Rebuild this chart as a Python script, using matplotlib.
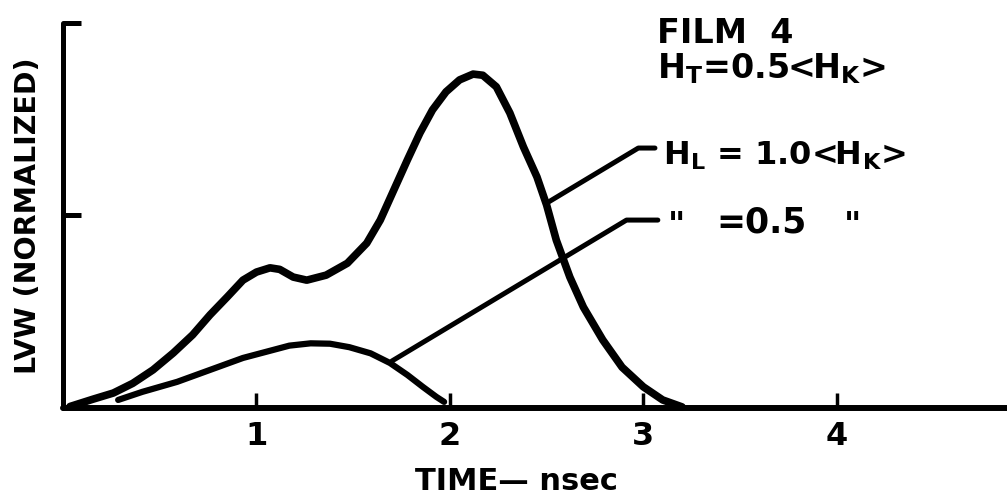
import matplotlib
matplotlib.use("Agg")
import matplotlib.pyplot as plt

# LVW response, H_L = 1.0 <H_K>
t_high = [0.036, 0.155, 0.26, 0.36, 0.465, 0.57, 0.67, 0.76, 0.85, 0.93,
          1.00, 1.07, 1.12, 1.19, 1.26, 1.36, 1.47, 1.57, 1.64, 1.71, 1.78,
          1.845, 1.91, 1.98, 2.05, 2.12, 2.17, 2.24, 2.31, 2.38, 2.45, 2.50,
          2.55, 2.62, 2.69, 2.79, 2.89, 3.00, 3.10, 3.20]
v_high = [0.004, 0.023, 0.039, 0.064, 0.099, 0.143, 0.19, 0.242, 0.289,
          0.332, 0.353, 0.364, 0.360, 0.340, 0.332, 0.345, 0.376, 0.428,
          0.488, 0.566, 0.644, 0.714, 0.774, 0.821, 0.852, 0.867, 0.864,
          0.834, 0.766, 0.678, 0.60, 0.527, 0.436, 0.340, 0.262, 0.177,
          0.106, 0.055, 0.021, 0.003]

# LVW response, H_L = 0.5 <H_K>
t_low = [0.285, 0.41, 0.59, 0.76, 0.93, 1.05, 1.17, 1.28, 1.38, 1.48, 1.59,
         1.69, 1.78, 1.86, 1.93, 1.97]
v_low = [0.021, 0.042, 0.068, 0.099, 0.130, 0.146, 0.162, 0.168, 0.167,
         0.158, 0.142, 0.117, 0.086, 0.055, 0.029, 0.016]

x_ticks = [1, 2, 3, 4]
x_ticklabels = ["1", "2", "3", "4"]
y_ticks = [0.5, 1.0]

plt.rcParams["font.family"] = ["DejaVu Sans"]
plt.rcParams["font.weight"] = "bold"
plt.rcParams["mathtext.fontset"] = "custom"
plt.rcParams["mathtext.rm"] = "DejaVu Sans:bold"
plt.rcParams["mathtext.it"] = "DejaVu Sans:bold"
plt.rcParams["mathtext.bf"] = "DejaVu Sans:bold"

fig = plt.figure(figsize=(10.07, 4.97), dpi=100)
ax = fig.add_axes([0.0626, 0.179, 0.9374, 0.775])
ax.set_xlim(0, 4.88)
ax.set_ylim(0, 1.0)

ink = "black"
ax.plot(t_high, v_high, color=ink, lw=5.5, solid_capstyle="round",
        solid_joinstyle="round", clip_on=False)
ax.plot(t_low, v_low, color=ink, lw=4.5, solid_capstyle="round",
        solid_joinstyle="round", clip_on=False)

for side in ("top", "right"):
    ax.spines[side].set_visible(False)
ax.spines["left"].set_linewidth(3.6)
ax.spines["bottom"].set_linewidth(4.3)
ax.spines["left"].set_capstyle("round")
ax.spines["bottom"].set_capstyle("round")

ax.set_xticks(x_ticks)
ax.set_xticklabels(x_ticklabels)
ax.tick_params(axis="x", direction="in", length=11, width=2.5, pad=9,
               labelsize=23)
ax.set_yticks(y_ticks)
ax.set_yticklabels([])
ax.tick_params(axis="y", direction="in", length=13, width=3.6)

ax.text(-0.037, 0.5, "LVW (NORMALIZED)", transform=ax.transAxes,
        rotation=90, ha="center", va="center", fontsize=20.5,
        fontweight="bold")
ax.text(1.82, -0.192, "TIME\u2014 nsec", transform=ax.get_xaxis_transform(),
        ha="left", va="center", fontsize=22, fontweight="bold")

# Title block
ax.text(3.07, 0.948, "FILM  4", ha="left", va="baseline", fontsize=24,
        fontweight="bold")
ax.text(3.07, 0.857, r"H$_{\mathrm{T}}$=0.5<H$_{\mathrm{K}}$>", ha="left",
        va="baseline", fontsize=24, fontweight="bold")

# Curve labels with leader lines
ax.text(3.10, 0.631, r"H$_{\mathrm{L}}$ = 1.0<H$_{\mathrm{K}}$>", ha="left",
        va="baseline", fontsize=23, fontweight="bold")
ax.text(3.38, 0.457, "=0.5", ha="left", va="baseline", fontsize=25,
        fontweight="bold")
for xd in (3.17, 4.08):
    ax.text(xd, 0.447, '"', ha="center", va="baseline", fontsize=24,
            fontweight="bold")

leader = dict(arrowstyle="-", lw=3.6, color=ink, shrinkA=0, shrinkB=0,
              connectionstyle="angle,angleA=0,angleB=31,rad=0",
              capstyle="round")
ax.annotate("", xy=(2.51, 0.535), xytext=(3.06, 0.675), arrowprops=leader)
ax.annotate("", xy=(1.70, 0.122), xytext=(3.075, 0.488), arrowprops=leader)

fig.savefig("out.png", dpi=100)
